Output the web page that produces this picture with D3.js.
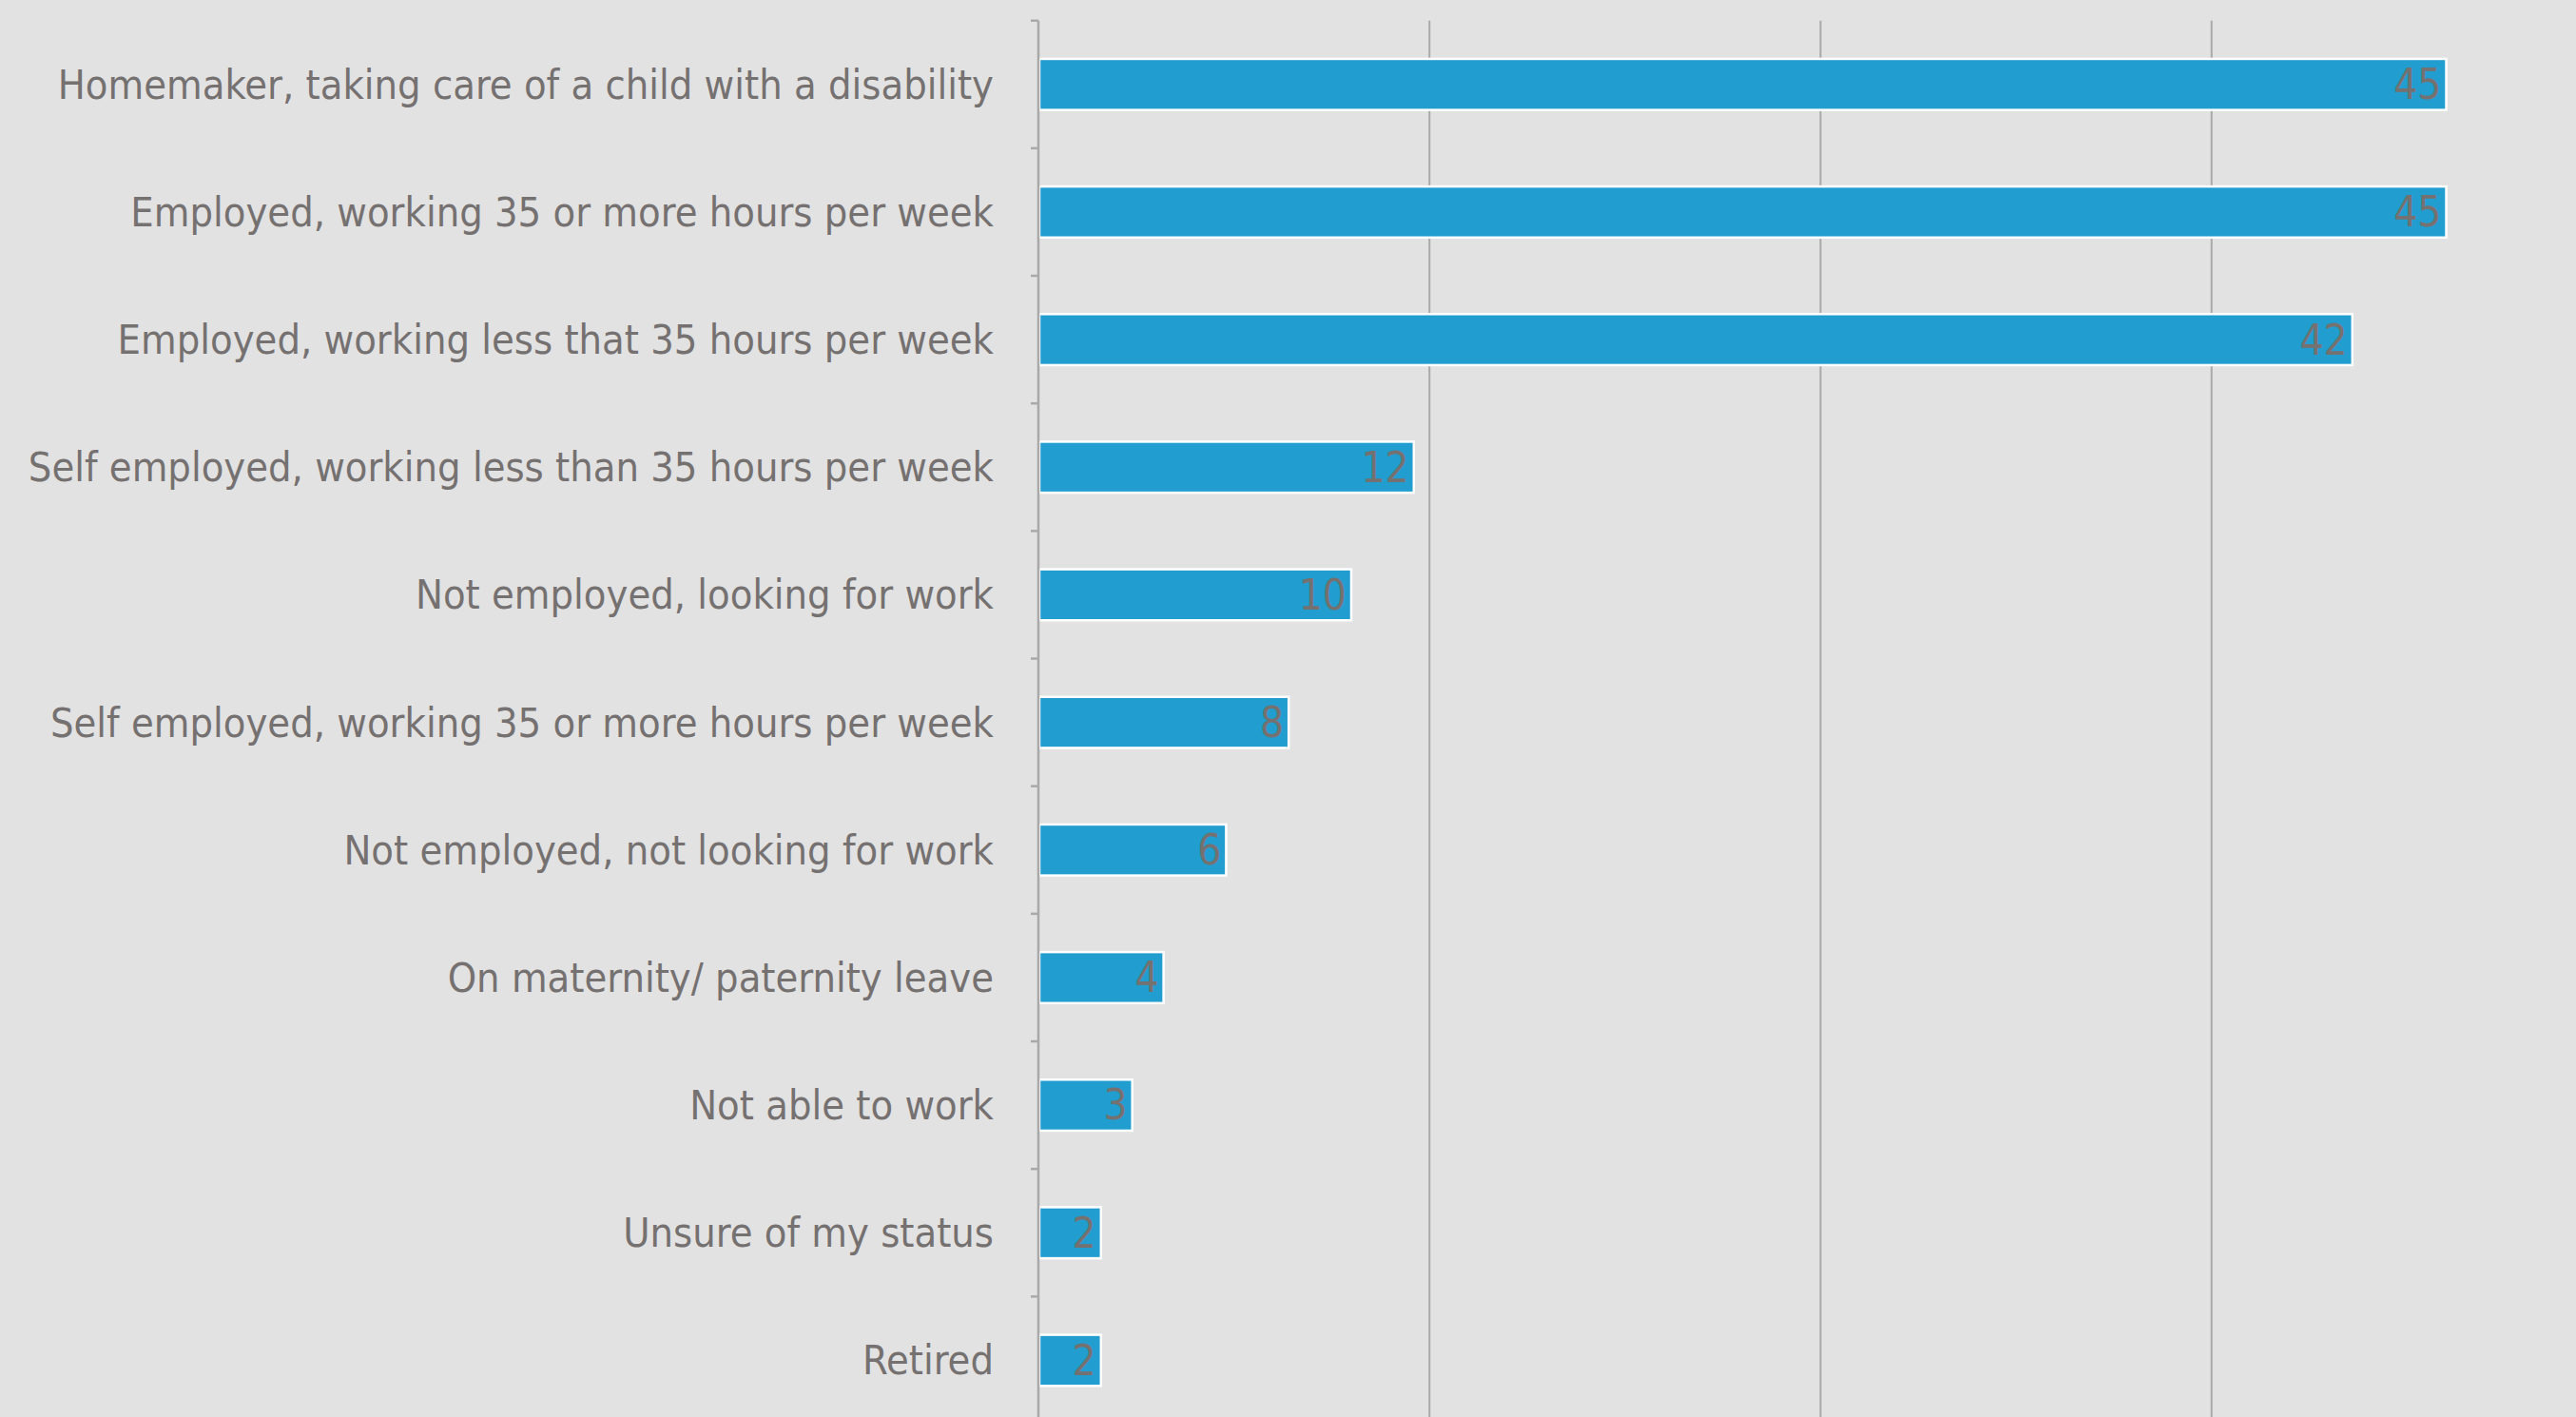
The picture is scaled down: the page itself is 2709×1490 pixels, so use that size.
<!DOCTYPE html>
<html>
<head>
<meta charset="utf-8">
<script src="https://cdn.jsdelivr.net/npm/d3@7"></script>
<style>
  html, body { margin: 0; padding: 0; background: #e2e2e2; }
  svg { display: block; }
</style>
</head>
<body>
<svg id="chart" width="2709" height="1490"></svg>
<script>
const categories = [
  "Homemaker, taking care of a child with a disability",
  "Employed, working 35 or more hours per week",
  "Employed, working less that 35 hours per week",
  "Self employed, working less than 35 hours per week",
  "Not employed, looking for work",
  "Self employed, working 35 or more hours per week",
  "Not employed, not looking for work",
  "On maternity/ paternity leave",
  "Not able to work",
  "Unsure of my status",
  "Retired"
];
const values = [45, 45, 42, 12, 10, 8, 6, 4, 3, 2, 2];
const xTicks = [0, 12.5, 25, 37.5, 50];

const W = 2709, H = 1490;
const svg = d3.select("#chart");
const FONT = "'Liberation Sans Narrow', 'DejaVu Sans Condensed', 'Liberation Sans', sans-serif";
const textColor = "#767171";
const gridColor = "#a9a9a9";

svg.append("rect").attr("width", W).attr("height", H).attr("fill", "#e2e2e2");

const x = d3.scaleLinear().domain([0, 50]).range([1092, 2737]);
const y = d3.scaleBand().domain(categories).range([21.7, 1497.5]).paddingInner(0.6).paddingOuter(0.3);
const bandH = (y.range()[1] - y.range()[0]) / categories.length;
const bandCenter = c => y.range()[0] + (categories.indexOf(c) + 0.5) * bandH;

// gridlines
svg.append("g").selectAll("line").data(xTicks.filter(d => d > 0)).join("line")
  .attr("x1", d => x(d)).attr("x2", d => x(d))
  .attr("y1", 21.7).attr("y2", H)
  .attr("stroke", gridColor).attr("stroke-width", 2);

// bars
svg.append("g").selectAll("rect").data(values).join("rect")
  .attr("x", x(0) + 1)
  .attr("y", (d, i) => y(categories[i]))
  .attr("width", d => x(d) - x(0) - 1)
  .attr("height", y.bandwidth())
  .attr("fill", "#229dd0")
  .attr("stroke", "#ffffff")
  .attr("stroke-width", 2.5);

// y axis line + ticks at band boundaries
const yAxisG = svg.append("g");
yAxisG.append("line")
  .attr("x1", x(0)).attr("x2", x(0))
  .attr("y1", 21.7).attr("y2", H)
  .attr("stroke", gridColor).attr("stroke-width", 2.5);
const boundaries = d3.range(categories.length + 1).map(i => y.range()[0] + i * bandH);
yAxisG.selectAll("line.tick").data(boundaries).join("line")
  .attr("class", "tick")
  .attr("x1", x(0) - 8).attr("x2", x(0))
  .attr("y1", d => d).attr("y2", d => d)
  .attr("stroke", gridColor).attr("stroke-width", 2.5);

// category labels
svg.append("g").selectAll("text").data(categories).join("text")
  .attr("x", 1045)
  .attr("y", d => bandCenter(d))
  .attr("dy", "0.35em")
  .attr("text-anchor", "end")
  .attr("font-family", FONT)
  .attr("font-size", 43)
  .attr("fill", textColor)
  .text(d => d);

// value labels
svg.append("g").selectAll("text").data(values).join("text")
  .attr("x", d => x(d) - 5)
  .attr("y", (d, i) => bandCenter(categories[i]))
  .attr("dy", "0.35em")
  .attr("text-anchor", "end")
  .attr("font-family", FONT)
  .attr("font-size", 44)
  .attr("fill", textColor)
  .text(d => d);
</script>
</body>
</html>
